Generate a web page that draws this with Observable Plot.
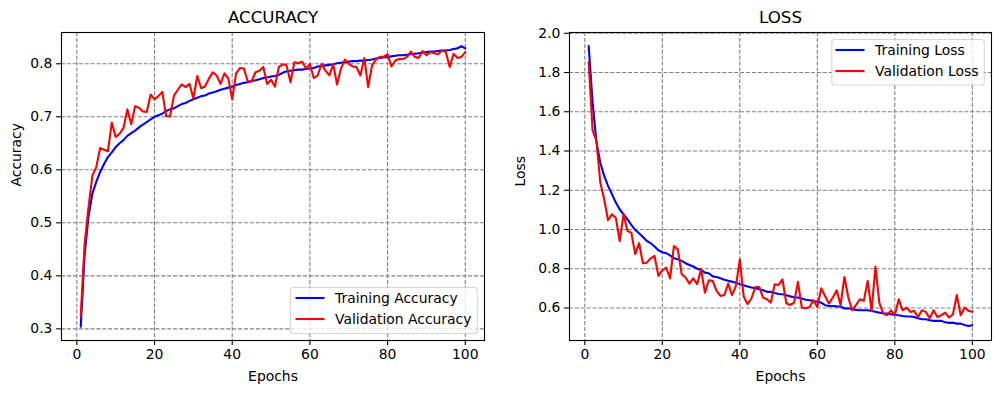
<!DOCTYPE html>
<html>
<head>
<meta charset="utf-8">
<script src="https://cdn.jsdelivr.net/npm/d3@7"></script>
<script src="https://cdn.jsdelivr.net/npm/@observablehq/plot@0.6"></script>
<style>
  body { margin: 0; background: #fff; }
  #wrap { position: relative; width: 1001px; height: 393px; background: #fff; }
  #wrap svg { position: absolute; top: 0; }
</style>
</head>
<body>
<div id="wrap"></div>
<script>
// Training history, one value per epoch (1..100)
const epochs = d3.range(1, 101);

const trainAcc = [
  0.304,0.440,0.512,0.555,0.577,0.596,0.611,0.624,0.633,0.643,
  0.650,0.656,0.664,0.669,0.674,0.680,0.685,0.690,0.695,0.700,
  0.703,0.706,0.711,0.714,0.716,0.720,0.724,0.726,0.730,0.733,
  0.736,0.739,0.740,0.744,0.746,0.748,0.751,0.753,0.755,0.757,
  0.760,0.762,0.764,0.765,0.767,0.769,0.771,0.773,0.774,0.776,
  0.777,0.779,0.783,0.786,0.787,0.788,0.789,0.789,0.790,0.791,
  0.792,0.795,0.796,0.797,0.798,0.799,0.801,0.802,0.803,0.804,
  0.805,0.805,0.806,0.806,0.807,0.808,0.810,0.811,0.812,0.813,
  0.814,0.815,0.816,0.816,0.817,0.818,0.819,0.820,0.821,0.822,
  0.823,0.823,0.824,0.825,0.825,0.826,0.828,0.829,0.833,0.829
];

const valAcc = [
  0.325,0.460,0.529,0.589,0.605,0.641,0.638,0.635,0.689,0.662,
  0.668,0.679,0.714,0.686,0.720,0.717,0.710,0.709,0.742,0.733,
  0.739,0.747,0.701,0.701,0.740,0.751,0.761,0.756,0.762,0.735,
  0.777,0.754,0.757,0.772,0.784,0.778,0.762,0.782,0.772,0.733,
  0.782,0.792,0.791,0.767,0.767,0.784,0.787,0.794,0.762,0.770,
  0.757,0.794,0.799,0.797,0.765,0.803,0.801,0.804,0.791,0.799,
  0.773,0.778,0.800,0.787,0.778,0.799,0.761,0.791,0.808,0.800,
  0.795,0.794,0.778,0.811,0.756,0.797,0.808,0.813,0.813,0.818,
  0.795,0.806,0.809,0.809,0.813,0.823,0.813,0.811,0.824,0.816,
  0.822,0.820,0.818,0.825,0.822,0.794,0.819,0.811,0.813,0.822
];

const trainLoss = [
  1.935,1.650,1.445,1.340,1.273,1.222,1.180,1.137,1.103,1.077,
  1.052,1.023,0.998,0.981,0.962,0.941,0.930,0.913,0.894,0.884,
  0.879,0.868,0.853,0.848,0.840,0.828,0.819,0.811,0.800,0.794,
  0.780,0.777,0.761,0.758,0.751,0.744,0.738,0.734,0.729,0.721,
  0.716,0.709,0.704,0.700,0.695,0.690,0.682,0.682,0.676,0.671,
  0.670,0.665,0.659,0.654,0.653,0.648,0.642,0.639,0.636,0.631,
  0.627,0.614,0.610,0.610,0.608,0.607,0.597,0.598,0.593,0.590,
  0.588,0.588,0.588,0.585,0.581,0.576,0.573,0.571,0.568,0.564,
  0.563,0.559,0.556,0.556,0.554,0.547,0.542,0.542,0.537,0.534,
  0.534,0.534,0.527,0.524,0.525,0.520,0.520,0.513,0.508,0.512
];

const valLoss = [
  1.854,1.506,1.451,1.239,1.154,1.047,1.077,1.060,0.941,1.077,
  0.992,0.984,0.874,0.930,0.828,0.831,0.853,0.865,0.763,0.792,
  0.806,0.750,0.916,0.899,0.772,0.755,0.724,0.751,0.721,0.797,
  0.678,0.741,0.738,0.687,0.661,0.666,0.724,0.665,0.712,0.848,
  0.658,0.619,0.648,0.707,0.707,0.653,0.644,0.627,0.721,0.717,
  0.746,0.624,0.615,0.627,0.733,0.602,0.598,0.605,0.639,0.605,
  0.700,0.661,0.622,0.653,0.690,0.615,0.758,0.653,0.588,0.615,
  0.644,0.636,0.738,0.585,0.811,0.627,0.571,0.563,0.588,0.563,
  0.644,0.588,0.602,0.580,0.585,0.554,0.588,0.580,0.547,0.588,
  0.554,0.563,0.576,0.551,0.568,0.666,0.563,0.602,0.585,0.581
];

const xTicks = [0, 20, 40, 60, 80, 100];
const accTicks = [0.3, 0.4, 0.5, 0.6, 0.7, 0.8];
const lossTicks = [0.6, 0.8, 1.0, 1.2, 1.4, 1.6, 1.8, 2.0];

const FONT = "DejaVu Sans, sans-serif";
const GRID_DASH = "4.1,1.8";

function toRows(values) {
  return values.map((v, i) => ({epoch: epochs[i], value: v}));
}

function panel(cfg) {
  const m = cfg.margin;
  const svg = Plot.plot({
    width: cfg.width,
    height: 393,
    marginTop: m.top, marginRight: m.right, marginBottom: m.bottom, marginLeft: m.left,
    style: {background: "white", color: "black", fontFamily: FONT, fontSize: "13.9px", overflow: "visible"},
    x: {domain: [-3.95, 104.95]},
    y: {domain: cfg.yDomain},
    marks: [
      Plot.gridX(xTicks, {stroke: "gray", strokeOpacity: 1, strokeWidth: 1.1, strokeDasharray: GRID_DASH}),
      Plot.gridY(cfg.yTicks, {stroke: "gray", strokeOpacity: 1, strokeWidth: 1.1, strokeDasharray: GRID_DASH}),
      Plot.line(toRows(cfg.train), {x: "epoch", y: "value", stroke: "#0000ff", strokeWidth: 2.1}),
      Plot.line(toRows(cfg.val), {x: "epoch", y: "value", stroke: "#ff0000", strokeWidth: 2.1}),
      Plot.frame({stroke: "black", strokeWidth: 1.1}),
      Plot.axisX(xTicks, {label: null, tickSize: 4.9, tickPadding: 4.2, fontSize: 13.9, strokeWidth: 1.1, tickFormat: d3.format("d")}),
      Plot.axisY(cfg.yTicks, {label: null, tickSize: 4.9, tickPadding: 4.2, fontSize: 13.9, strokeWidth: 1.1, tickFormat: d3.format(".1f")}),
      Plot.text([cfg.title], {frameAnchor: "top", dy: -15, lineAnchor: "middle", fontSize: 16.7, fill: "black"}),
      Plot.text(["Epochs"], {frameAnchor: "bottom", dy: 36, lineAnchor: "middle", fontSize: 13.9, fill: "black"}),
      Plot.text([cfg.yLabel], {frameAnchor: "left", dx: cfg.yLabelDx, rotate: -90, lineAnchor: "middle", fontSize: 13.9, fill: "black"})
    ]
  });

  // Legend box
  const L = cfg.legend;
  const g = d3.select(svg).append("g")
    .attr("font-family", FONT).attr("font-size", 13.9)
    .attr("text-anchor", "start");
  g.append("rect")
    .attr("x", L.x).attr("y", L.y).attr("width", L.w).attr("height", L.h)
    .attr("rx", 3).attr("ry", 3)
    .attr("fill", "white").attr("fill-opacity", 0.8)
    .attr("stroke", "#cccccc").attr("stroke-opacity", 0.8).attr("stroke-width", 1.1);
  const items = [[cfg.trainName, "#0000ff"], [cfg.valName, "#ff0000"]];
  items.forEach(([name, color], i) => {
    const y = L.rows[i];
    g.append("line")
      .attr("x1", L.lineX0).attr("x2", L.lineX1).attr("y1", y).attr("y2", y)
      .attr("stroke", color).attr("stroke-width", 2.1);
    g.append("text")
      .attr("x", L.textX).attr("y", y).attr("dy", "0.35em")
      .attr("text-anchor", "start")
      .attr("fill", "black").text(name);
  });

  svg.style.left = cfg.left + "px";
  return svg;
}

const wrap = document.getElementById("wrap");

wrap.appendChild(panel({
  left: 0, width: 500,
  margin: {top: 32, right: 16, bottom: 53, left: 61},
  title: "ACCURACY", yLabel: "Accuracy", yLabelDx: -45,
  train: trainAcc, val: valAcc,
  trainName: "Training Accuracy", valName: "Validation Accuracy",
  yDomain: [0.278, 0.859], yTicks: accTicks,
  legend: {x: 290.5, y: 287.5, w: 186.8, h: 46, lineX0: 295.5, lineX1: 324.5, textX: 335, rows: [298, 319]}
}));

wrap.appendChild(panel({
  left: 500, width: 501,
  margin: {top: 32, right: 10, bottom: 53, left: 69},
  title: "LOSS", yLabel: "Loss", yLabelDx: -49,
  train: trainLoss, val: valLoss,
  trainName: "Training Loss", valName: "Validation Loss",
  yDomain: [0.434, 2.004], yTicks: lossTicks,
  legend: {x: 331.8, y: 39.5, w: 152.5, h: 45.5, lineX0: 335.5, lineX1: 364.5, textX: 375, rows: [50, 71]}
}));
</script>
</body>
</html>
